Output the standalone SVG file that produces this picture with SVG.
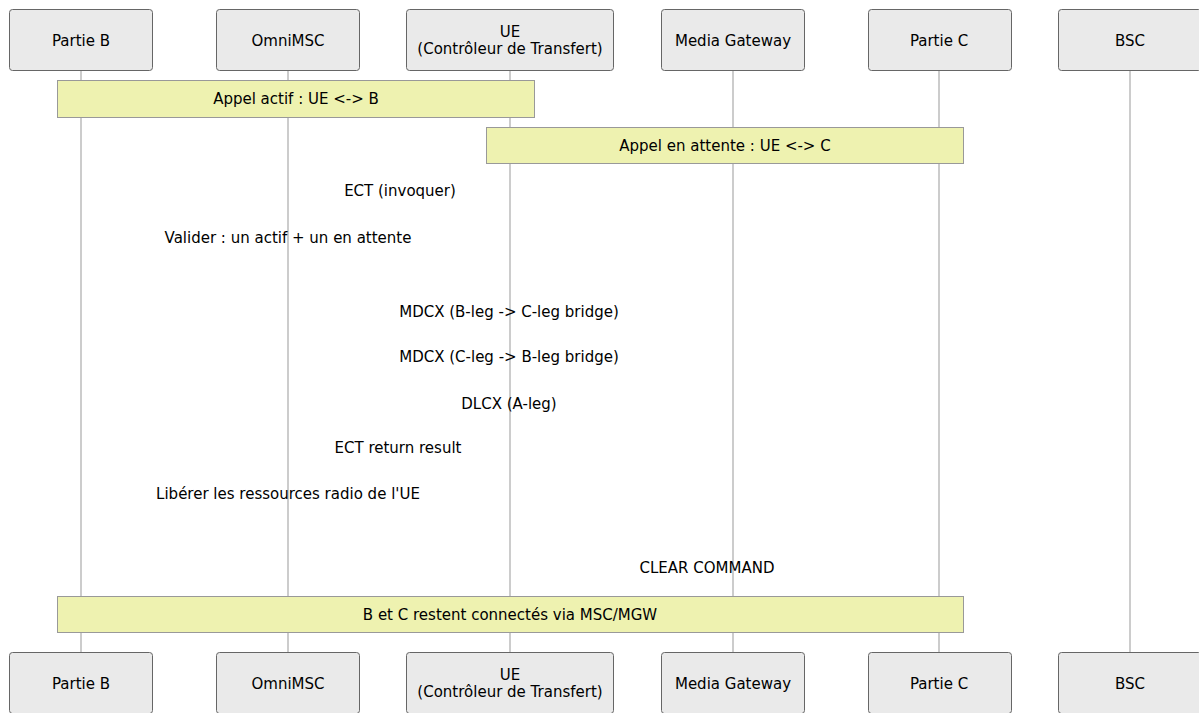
<svg xmlns="http://www.w3.org/2000/svg" width="1199" height="713" viewBox="0 0 1199 713">
<style>
text{font-family:"DejaVu Sans","Liberation Sans",sans-serif;font-size:15px;fill:#000;text-anchor:middle;dominant-baseline:central}
.actor{fill:#eaeaea;stroke:#666;stroke-width:1}
.life{stroke:#999;stroke-width:1}
.note{fill:#eef2b0;stroke:#999;stroke-width:1}
</style>
<rect width="1199" height="713" fill="#fff"/>
<g id="lifelines">
<line class="life" x1="81" y1="70" x2="81" y2="652"/>
<line class="life" x1="288" y1="70" x2="288" y2="652"/>
<line class="life" x1="510" y1="70" x2="510" y2="652"/>
<line class="life" x1="733" y1="70" x2="733" y2="652"/>
<line class="life" x1="939" y1="70" x2="939" y2="652"/>
<line class="life" x1="1130" y1="70" x2="1130" y2="652"/>
</g>
<g id="actor-B-top"><rect class="actor" x="9.5" y="9.5" width="143" height="61" rx="3"/><text x="81" y="41">Partie B</text></g>
<g id="actor-MSC-top"><rect class="actor" x="216.5" y="9.5" width="143" height="61" rx="3"/><text x="288" y="41">OmniMSC</text></g>
<g id="actor-UE-top"><rect class="actor" x="406.5" y="9.5" width="207" height="61" rx="3"/><text x="510" y="32">UE</text><text x="510" y="49">(Contrôleur de Transfert)</text></g>
<g id="actor-MGW-top"><rect class="actor" x="661.5" y="9.5" width="143" height="61" rx="3"/><text x="733" y="41">Media Gateway</text></g>
<g id="actor-C-top"><rect class="actor" x="868.5" y="9.5" width="143" height="61" rx="3"/><text x="939" y="41">Partie C</text></g>
<g id="actor-BSC-top"><rect class="actor" x="1058.5" y="9.5" width="143" height="61" rx="3"/><text x="1130" y="41">BSC</text></g>
<g id="note-1"><rect class="note" x="57.5" y="80.5" width="477" height="37"/><text x="296" y="99">Appel actif : UE &lt;-&gt; B</text></g>
<g id="note-2"><rect class="note" x="486.5" y="127.5" width="477" height="36"/><text x="725" y="146">Appel en attente : UE &lt;-&gt; C</text></g>
<g id="messages">
<text x="400" y="191">ECT (invoquer)</text>
<text x="288" y="238">Valider : un actif + un en attente</text>
<text x="509" y="312">MDCX (B-leg -&gt; C-leg bridge)</text>
<text x="509" y="357">MDCX (C-leg -&gt; B-leg bridge)</text>
<text x="509" y="404">DLCX (A-leg)</text>
<text x="398" y="448">ECT return result</text>
<text x="288" y="494">Libérer les ressources radio de l'UE</text>
<text x="707" y="568">CLEAR COMMAND</text>
</g>
<g id="note-3"><rect class="note" x="57.5" y="596.5" width="906" height="36"/><text x="510" y="615">B et C restent connectés via MSC/MGW</text></g>
<g id="actor-B-bottom"><rect class="actor" x="9.5" y="652.5" width="143" height="61" rx="3"/><text x="81" y="684">Partie B</text></g>
<g id="actor-MSC-bottom"><rect class="actor" x="216.5" y="652.5" width="143" height="61" rx="3"/><text x="288" y="684">OmniMSC</text></g>
<g id="actor-UE-bottom"><rect class="actor" x="406.5" y="652.5" width="207" height="61" rx="3"/><text x="510" y="675">UE</text><text x="510" y="692">(Contrôleur de Transfert)</text></g>
<g id="actor-MGW-bottom"><rect class="actor" x="661.5" y="652.5" width="143" height="61" rx="3"/><text x="733" y="684">Media Gateway</text></g>
<g id="actor-C-bottom"><rect class="actor" x="868.5" y="652.5" width="143" height="61" rx="3"/><text x="939" y="684">Partie C</text></g>
<g id="actor-BSC-bottom"><rect class="actor" x="1058.5" y="652.5" width="143" height="61" rx="3"/><text x="1130" y="684">BSC</text></g>
</svg>
